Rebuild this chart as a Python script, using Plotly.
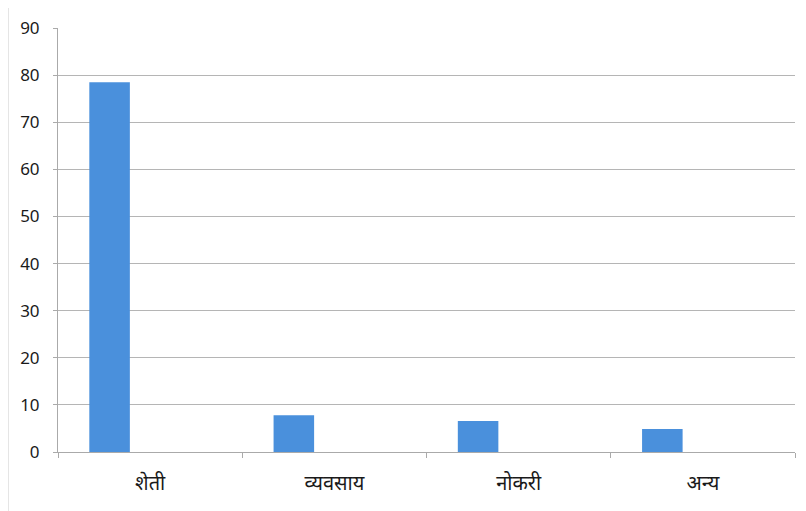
import plotly.graph_objects as go

categories = ["शेती", "व्यवसाय", "नोकरी", "अन्य"]
values = [78.5, 7.8, 6.6, 4.9]
y_ticks = [0, 10, 20, 30, 40, 50, 60, 70, 80, 90]

fig = go.Figure()
fig.add_trace(go.Bar(
    x=categories, y=values,
    marker=dict(color="#4A90DC", line=dict(width=0)),
    width=0.22, offset=-0.33,
))

fig.update_layout(
    width=798, height=503,
    margin=dict(l=50, r=11, t=20, b=59, autoexpand=False),
    paper_bgcolor="white", plot_bgcolor="white",
    showlegend=False,
    font=dict(family="Noto Sans, DejaVu Sans, sans-serif", color="#222"),
    shapes=[
        dict(type="line", xref="paper", yref="paper", x0=-0.068, x1=-0.068, y0=-0.14, y1=1.06,
             line=dict(color="#bbbbbb", width=1)),
    ],
)
fig.update_xaxes(
    type="category", showgrid=False, showline=True, linecolor="#aaaaaa", linewidth=1,
    ticks="outside", ticklen=5, tickcolor="#aaaaaa", tickson="boundaries",
    ticklabelstandoff=13,
    tickfont=dict(size=20, color="#1a1a1a"),
)
fig.update_yaxes(
    range=[0, 90], tickvals=y_ticks, showgrid=True, gridcolor="#b5b5b5", gridwidth=1,
    showline=True, linecolor="#aaaaaa", linewidth=1, zeroline=False,
    ticks="outside", ticklen=4, tickcolor="#aaaaaa",
    ticklabelstandoff=10,
    tickfont=dict(size=17, color="#1a1a1a"),
)
fig.write_html("out.html")
